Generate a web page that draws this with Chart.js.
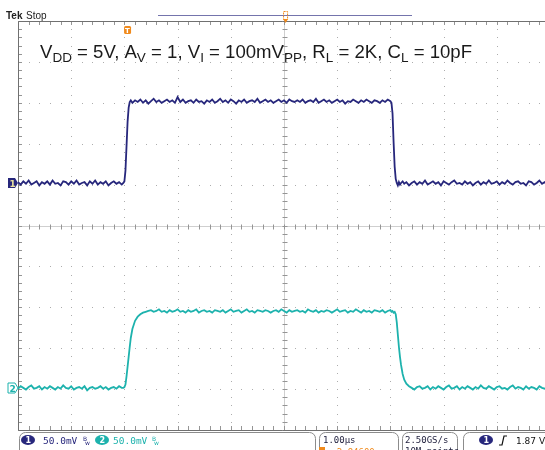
<!DOCTYPE html>
<html>
<head>
<meta charset="utf-8">
<script src="https://cdn.jsdelivr.net/npm/chart.js@4.4.0/dist/chart.umd.min.js"></script>
<style>
  body { margin: 0; background: #fff; }
  canvas { display: block; }
</style>
</head>
<body>
<canvas id="scope" width="545" height="450"></canvas>
<script>
// time axis, microseconds (1.00us/div)
const timeUs = [
  -5.00, -4.95, -4.90, -4.85, -4.80, -4.75, -4.70, -4.65, -4.60, -4.55,
  -4.50, -4.45, -4.40, -4.35, -4.30, -4.25, -4.20, -4.15, -4.10, -4.05,
  -4.00, -3.95, -3.90, -3.85, -3.80, -3.75, -3.70, -3.65, -3.60, -3.55,
  -3.50, -3.45, -3.40, -3.35, -3.30, -3.25, -3.20, -3.15, -3.10, -3.05,
  -3.02, -3.00, -2.98, -2.96, -2.94, -2.92, -2.90, -2.88, -2.85, -2.80,
  -2.75, -2.70, -2.65, -2.60, -2.55, -2.50, -2.45, -2.40, -2.35, -2.30,
  -2.25, -2.20, -2.15, -2.10, -2.05, -2.00, -1.95, -1.90, -1.85, -1.80,
  -1.75, -1.70, -1.65, -1.60, -1.55, -1.50, -1.45, -1.40, -1.35, -1.30,
  -1.25, -1.20, -1.15, -1.10, -1.05, -1.00, -0.95, -0.90, -0.85, -0.80,
  -0.75, -0.70, -0.65, -0.60, -0.55, -0.50, -0.45, -0.40, -0.35, -0.30,
  -0.25, -0.20, -0.15, -0.10, -0.05, 0.00, 0.05, 0.10, 0.15, 0.20,
  0.25, 0.30, 0.35, 0.40, 0.45, 0.50, 0.55, 0.60, 0.65, 0.70,
  0.75, 0.80, 0.85, 0.90, 0.95, 1.00, 1.05, 1.10, 1.15, 1.20,
  1.25, 1.30, 1.35, 1.40, 1.45, 1.50, 1.55, 1.60, 1.65, 1.70,
  1.75, 1.80, 1.85, 1.90, 1.95, 2.00, 2.02, 2.04, 2.06, 2.08,
  2.10, 2.12, 2.14, 2.16, 2.18, 2.20, 2.23, 2.26, 2.30, 2.35,
  2.40, 2.45, 2.50, 2.55, 2.60, 2.65, 2.70, 2.75, 2.80, 2.85,
  2.90, 2.95, 3.00, 3.05, 3.10, 3.15, 3.20, 3.25, 3.30, 3.35,
  3.40, 3.45, 3.50, 3.55, 3.60, 3.65, 3.70, 3.75, 3.80, 3.85,
  3.90, 3.95, 4.00, 4.05, 4.10, 4.15, 4.20, 4.25, 4.30, 4.35,
  4.40, 4.45, 4.50, 4.55, 4.60, 4.65, 4.70, 4.75, 4.80, 4.85,
  4.90, 4.95
];

// channel 1 (input), mV
const ch1mV = [
  1, -2, 2, -1, 3, -2, 0, 2, -3, 1,
  -1, 2, -2, 3, -1, 0, -3, 2, 1, -2,
  2, -1, 3, -2, 0, 1, -3, 2, -1, 3,
  -2, 1, -1, 2, -3, 0, 2, -1, 1, -2,
  0, 2, 15, 45, 75, 92, 99, 101, 98, 101,
  99, 102, 98, 101, 97, 100, 103, 99, 101, 98,
  100, 102, 99, 101, 98, 105, 99, 102, 98, 100,
  101, 98, 102, 99, 100, 97, 101, 99, 102, 98,
  100, 103, 99, 101, 98, 102, 100, 97, 101, 99,
  102, 98, 100, 101, 99, 103, 98, 100, 102, 99,
  101, 98, 100, 102, 99, 101, 98, 102, 100, 99,
  101, 99, 102, 98, 100, 101, 99, 103, 98, 100,
  102, 99, 101, 98, 100, 102, 99, 101, 97, 100,
  99, 102, 100, 98, 101, 99, 102, 100, 98, 101,
  100, 98, 101, 99, 102, 100, 98, 85, 50, 20,
  5, 0, -3, 1, -2, 0, 2, -1, 1, -3,
  0, 2, -2, 1, -1, 3, -2, 0, 2, -1,
  1, -3, 2, 0, -2, 1, 3, -1, 0, -2,
  2, -1, 1, -3, 0, 2, -2, 1, -1, 3,
  -1, 0, 2, -2, 1, -1, 3, 0, -2, 1,
  2, -1, 0, -3, 2, 1, -2, 0, 3, -1,
  1, -2
];

// channel 2 (output), mV
const ch2mV = [
  -1, 2, 0, -2, 1, 3, -1, 0, 2, -2,
  1, -1, 2, 0, -2, 1, -1, 3, 0, -1,
  2, -2, 0, 1, -1, 2, -3, 0, 1, -1,
  0, 2, -1, 1, -2, 0, 1, -1, 2, 0,
  0, 1, 4, 14, 26, 38, 50, 61, 72, 82,
  87, 90, 92, 93, 94, 95, 93, 94, 96, 93,
  94, 92, 95, 93, 94, 96, 93, 94, 92, 95,
  93, 94, 96, 92, 94, 95, 93, 94, 92, 95,
  94, 93, 95, 92, 94, 96, 93, 94, 95, 92,
  94, 96, 93, 94, 92, 95, 94, 93, 95, 94,
  92, 94, 95, 93, 96, 94, 92, 95, 93, 94,
  95, 93, 94, 92, 96, 94, 93, 95, 92, 94,
  93, 95, 94, 92, 94, 96, 93, 94, 95, 92,
  94, 93, 96, 94, 92, 95, 93, 94, 92, 95,
  94, 93, 95, 92, 94, 95, 93, 94, 92, 93,
  90, 80, 65, 50, 38, 28, 17, 10, 5, 2,
  0, -2, 1, 2, -1, 0, 2, -2, 1, -1,
  2, 0, -2, 1, 3, -1, 0, 2, -2, 1,
  -1, 2, 0, -2, 1, -1, 3, 0, -1, 2,
  0, -2, 1, 2, -1, 0, -2, 1, 3, -1,
  1, 0, -2, 2, -1, 1, 0, -2, 2, 0,
  -1, 1
];

const mVperDiv = 50;
const ch1Pos = 1.04;   // ground marker, divisions from centre
const ch2Pos = -3.97;

const ch1Color = '#27277c';
const ch2Color = '#1db2ad';
const orange = '#f08a1c';

const titleParts = [
  ['V', 0], ['DD', 1], [' = 5V, A', 0], ['V', 1], [' = 1, V', 0], ['I', 1],
  [' = 100mV', 0], ['PP', 1], [', R', 0], ['L', 1], [' = 2K, C', 0], ['L', 1], [' = 10pF', 0]
];
const chScaleText = '50.0mV';
const timebaseText = '1.00\u00b5s';
const delayText = '\u25bc2.94600\u00b5s';
const sampleText = '2.50GS/s';
const recordText = '10M points';
const trigLevelText = '1.87 V';

// scope screen: graticule, labels, status bar
const scopeScreen = {
  id: 'scopeScreen',
  beforeDraw(chart) {
    const ctx = chart.ctx;
    ctx.save();
    ctx.fillStyle = '#fff';
    ctx.fillRect(0, 0, chart.width, chart.height);
    ctx.restore();
  },
  beforeDatasetsDraw(chart) {
    const { ctx, chartArea: a, scales: { x, y } } = chart;
    ctx.save();
    // dotted major lines
    ctx.fillStyle = '#adadad';
    for (let i = -4; i <= 4; i++) {
      if (i === 0) continue;
      const px = Math.round(x.getPixelForValue(i));
      for (let j = -25; j <= 25; j++) {
        ctx.fillRect(px, Math.round(y.getPixelForValue(j / 5)), 1, 1);
      }
      const py = Math.round(y.getPixelForValue(i));
      for (let k = -25; k <= 25; k++) {
        ctx.fillRect(Math.round(x.getPixelForValue(k / 5)), py, 1, 1);
      }
    }
    // centre cross
    const cx = Math.round(x.getPixelForValue(0)) + 0.5;
    const cy = Math.round(y.getPixelForValue(0)) + 0.5;
    ctx.strokeStyle = '#cfcfcf';
    ctx.lineWidth = 1;
    ctx.beginPath();
    ctx.moveTo(cx, a.top); ctx.lineTo(cx, a.bottom);
    ctx.moveTo(a.left, cy); ctx.lineTo(a.right, cy);
    ctx.stroke();
    ctx.strokeStyle = '#959595';
    ctx.beginPath();
    for (let j = -25; j <= 25; j++) {
      const py = Math.round(y.getPixelForValue(j / 5)) + 0.5;
      ctx.moveTo(cx - 2, py); ctx.lineTo(cx + 3, py);
      ctx.moveTo(a.left, py); ctx.lineTo(a.left + 4, py);
    }
    for (let k = -25; k <= 25; k++) {
      const px = Math.round(x.getPixelForValue(k / 5)) + 0.5;
      ctx.moveTo(px, cy - 2); ctx.lineTo(px, cy + 3);
      ctx.moveTo(px, a.top); ctx.lineTo(px, a.top + 4);
      ctx.moveTo(px, a.bottom); ctx.lineTo(px, a.bottom - 4);
    }
    ctx.stroke();
    // frame
    ctx.strokeStyle = '#707070';
    ctx.beginPath();
    ctx.moveTo(a.right + 1, a.top + 0.5); ctx.lineTo(a.left + 0.5, a.top + 0.5);
    ctx.lineTo(a.left + 0.5, a.bottom + 0.5); ctx.lineTo(a.right + 1, a.bottom + 0.5);
    ctx.stroke();
    ctx.restore();
  },
  afterDraw(chart) {
    const { ctx, scales: { x, y } } = chart;
    ctx.save();
    ctx.textBaseline = 'alphabetic';

    // Tek Stop
    ctx.fillStyle = '#222';
    ctx.font = 'bold 10px "Liberation Sans", Arial, sans-serif';
    ctx.fillText('Tek', 6, 19);
    ctx.font = '10px "Liberation Sans", Arial, sans-serif';
    ctx.fillText('Stop', 26, 19);

    // record view bar
    ctx.strokeStyle = '#7474ac';
    ctx.lineWidth = 1.2;
    ctx.beginPath();
    ctx.moveTo(158, 15.5); ctx.lineTo(412, 15.5);
    ctx.stroke();

    // trigger position markers
    const tx = x.getPixelForValue(-2.95);
    ctx.fillStyle = orange;
    ctx.beginPath();
    ctx.roundRect(tx - 3, 26, 7, 8, 1.5);
    ctx.fill();
    ctx.fillStyle = '#fff';
    ctx.font = 'bold 7px "DejaVu Sans", sans-serif';
    ctx.fillText('T', tx - 2, 33);
    const ex = x.getPixelForValue(0.02);
    ctx.strokeStyle = orange;
    ctx.lineWidth = 1;
    ctx.setLineDash([2, 1]);
    ctx.strokeRect(ex - 1.5, 11.5, 4, 8);
    ctx.setLineDash([]);
    ctx.fillStyle = orange;
    ctx.beginPath();
    ctx.moveTo(ex - 2, 19); ctx.lineTo(ex + 3, 19); ctx.lineTo(ex + 0.5, 23); ctx.closePath();
    ctx.fill();

    // title text
    ctx.fillStyle = '#1a1a1a';
    let px = 40;
    for (const [s, sub] of titleParts) {
      ctx.font = (sub ? '13.5px' : '18.6px') + ' "Liberation Sans", Arial, sans-serif';
      ctx.fillText(s, px, sub ? 62 : 58);
      px += ctx.measureText(s).width;
    }

    // channel ground markers
    const marker = (py, label, col, filled) => {
      ctx.beginPath();
      ctx.moveTo(8, py - 5); ctx.lineTo(15, py - 5); ctx.lineTo(18, py);
      ctx.lineTo(15, py + 5); ctx.lineTo(8, py + 5); ctx.closePath();
      if (filled) { ctx.fillStyle = col; ctx.fill(); }
      else { ctx.fillStyle = '#fff'; ctx.fill(); ctx.strokeStyle = col; ctx.lineWidth = 1; ctx.stroke(); }
      ctx.fillStyle = filled ? '#e8e0a0' : col;
      ctx.font = 'bold 9px "DejaVu Sans", sans-serif';
      ctx.fillText(label, 9.5, py + 3.5);
    };
    marker(Math.round(y.getPixelForValue(ch1Pos)), '1', ch1Color, true);
    marker(Math.round(y.getPixelForValue(ch2Pos)), '2', ch2Color, false);

    // status bar boxes
    ctx.strokeStyle = '#8c8c8c';
    ctx.lineWidth = 1;
    const box = (l, r) => { ctx.beginPath(); ctx.roundRect(l + 0.5, 432.5, r - l, 24, 6); ctx.stroke(); };
    box(19, 315); box(319, 398); box(402, 457); box(463, 580);

    const chip = (cx0, label, col) => {
      ctx.fillStyle = col;
      ctx.beginPath();
      ctx.ellipse(cx0, 440, 7, 5, 0, 0, Math.PI * 2);
      ctx.fill();
      ctx.fillStyle = '#fff';
      ctx.font = 'bold 8px "DejaVu Sans", sans-serif';
      ctx.fillText(label, cx0 - 2.5, 443);
    };
    chip(28, '1', ch1Color);
    ctx.fillStyle = ch1Color;
    ctx.font = '9.5px "DejaVu Sans Mono", monospace';
    ctx.fillText(chScaleText, 43, 444);
    ctx.font = '6px "DejaVu Sans", sans-serif';
    ctx.fillText('B', 83, 441); ctx.fillText('w', 85, 445);
    chip(102, '2', ch2Color);
    ctx.fillStyle = ch2Color;
    ctx.font = '9.5px "DejaVu Sans Mono", monospace';
    ctx.fillText(chScaleText, 113, 444);
    ctx.font = '6px "DejaVu Sans", sans-serif';
    ctx.fillText('B', 152, 441); ctx.fillText('w', 154, 445);

    ctx.fillStyle = '#1c1c3a';
    ctx.font = '9px "DejaVu Sans Mono", monospace';
    ctx.fillText(timebaseText, 323, 443);
    ctx.fillText(sampleText, 405, 443);
    ctx.fillText(recordText, 405, 454);
    ctx.fillStyle = orange;
    ctx.fillRect(319, 447, 6, 4);
    ctx.fillText('\u2192' + delayText, 326, 455);

    chip(486, '1', ch1Color);
    ctx.strokeStyle = '#111';
    ctx.lineWidth = 1.2;
    ctx.beginPath();
    ctx.moveTo(499, 445); ctx.lineTo(502, 445); ctx.lineTo(504, 436); ctx.lineTo(507, 436);
    ctx.stroke();
    ctx.fillStyle = '#111';
    ctx.font = '9px "DejaVu Sans", sans-serif';
    ctx.fillText(trigLevelText, 516, 444);
    ctx.restore();
  }
};

const scopeChart = new Chart(document.getElementById('scope').getContext('2d'), {
  type: 'line',
  data: {
    datasets: [
      {
        label: 'CH1',
        data: timeUs.map((t, i) => ({ x: t, y: ch1Pos + ch1mV[i] / mVperDiv })),
        borderColor: ch1Color,
        borderWidth: 1.8,
        pointRadius: 0,
        tension: 0
      },
      {
        label: 'CH2',
        data: timeUs.map((t, i) => ({ x: t, y: ch2Pos + ch2mV[i] / mVperDiv })),
        borderColor: ch2Color,
        borderWidth: 1.8,
        pointRadius: 0,
        tension: 0
      }
    ]
  },
  options: {
    responsive: false,
    animation: false,
    layout: { padding: { left: 18, top: 21, right: 0, bottom: 20 } },
    plugins: { legend: { display: false }, tooltip: { enabled: false } },
    scales: {
      x: { type: 'linear', min: -5, max: 4.906, display: false },
      y: { type: 'linear', min: -5, max: 5, display: false }
    }
  },
  plugins: [scopeScreen]
});
</script>
</body>
</html>
